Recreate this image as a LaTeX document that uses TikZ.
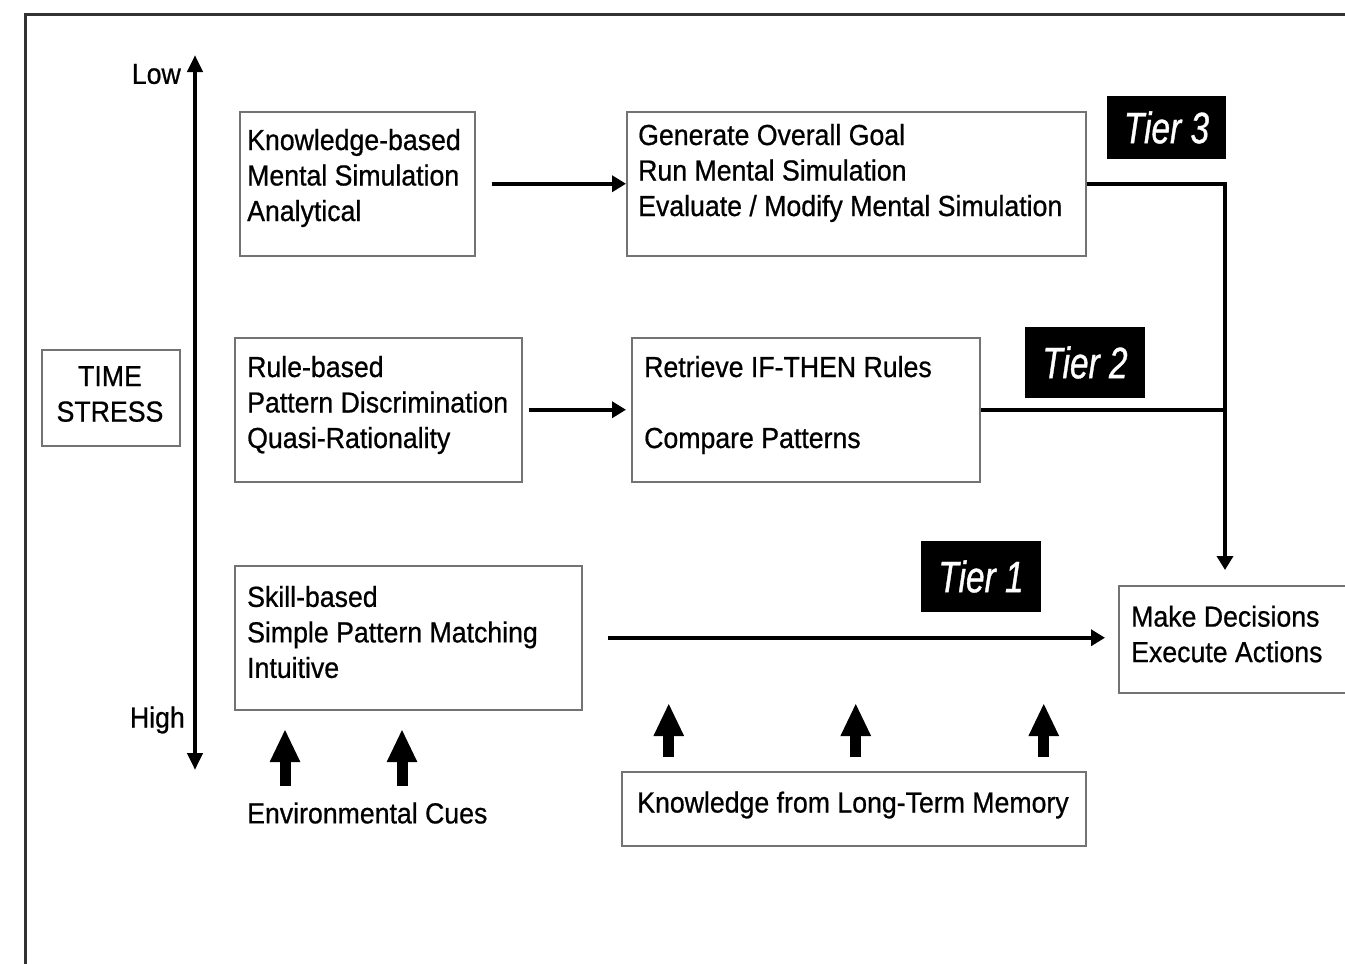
\documentclass[tikz,border=0pt]{standalone}
\usepackage{fontspec}
\setmainfont{Liberation Sans}[FakeStretch=0.92, UprightFeatures={FakeBold=0.7}]
\newfontfamily\tierfont{Liberation Sans}[FakeStretch=0.76, ItalicFeatures={FakeBold=0.8}]
\usetikzlibrary{arrows.meta}

\begin{document}
\begin{tikzpicture}[x=1pt,y=-1pt,
  every node/.style={font=\fontsize{29}{35.5}\selectfont, text=black},
  box/.style={draw=black!55, line width=1.5pt, fill=white, inner sep=0pt, anchor=north west},
  txt/.style={align=left, anchor=west, inner sep=0pt},
  tier/.style={fill=black, text=white, inner sep=0pt,
    font=\tierfont\itshape\fontsize{44}{44}\selectfont},
  conn/.style={line width=3.5pt, -{Triangle[length=14pt,width=16pt]}},
  link/.style={line width=3.5pt},
  cue/.style={line width=11pt, -{Triangle[length=33pt,width=28pt]}},
  axis/.style={line width=4.5pt,
    {Triangle[length=17pt,width=15pt]}-{Triangle[length=17pt,width=15pt]}},
]
\useasboundingbox (0,0) rectangle (1345,964);
\clip (0,0) rectangle (1345,964);

% outer frame
\draw[line width=3pt, draw=black!80] (1400,14) -- (25,14) -- (25,1000);

% time-stress axis
\coordinate (lowend) at (195,55);
\coordinate (highend) at (195,770);
\draw[axis] (highend) -- (lowend);
\node[anchor=east, inner sep=0pt] (low) at (181,74) {Low};
\node[anchor=east, inner sep=0pt] (high) at (185,720) {High};

\node[box, minimum width=138pt, minimum height=96pt] (ts) at (41,349) {};
\node[align=center, inner sep=0pt] (tst) at (110,394) {TIME\\STRESS};

% tier 3
\node[box, minimum width=235pt, minimum height=144pt] (kb) at (239,111) {};
\node[txt] (kbt) at (247,178) {Knowledge-based\\Mental Simulation\\Analytical};
\node[box, minimum width=459pt, minimum height=144pt] (goal) at (626,111) {};
\node[txt] (goalt) at (638,173) {Generate Overall Goal\\Run Mental Simulation\\Evaluate / Modify Mental Simulation};
\node[tier, minimum width=119pt, minimum height=63pt] (t3) at (1166.5,127.5) {Tier 3};

% tier 2
\node[box, minimum width=287pt, minimum height=144pt] (rule) at (234,337) {};
\node[txt] (rulet) at (247,405) {Rule-based\\Pattern Discrimination\\Quasi-Rationality};
\node[box, minimum width=348pt, minimum height=144pt] (retr) at (631,337) {};
\node[txt] (retrt) at (644,405) {Retrieve IF-THEN Rules\\[35.5pt]Compare Patterns};
\node[tier, minimum width=120pt, minimum height=71pt] (t2) at (1085,362.5) {Tier 2};

% tier 1
\node[box, minimum width=347pt, minimum height=144pt] (skill) at (234,565) {};
\node[txt] (skillt) at (247,632) {Skill-based\\Simple Pattern Matching\\Intuitive};
\node[tier, minimum width=120pt, minimum height=71pt] (t1) at (981,576.5) {Tier 1};

% outcome
\node[box, minimum width=260pt, minimum height=107pt] (dec) at (1118,585) {};
\node[txt] (dect) at (1131,634) {Make Decisions\\Execute Actions};

% long-term memory
\node[box, minimum width=464pt, minimum height=74pt] (ltm) at (621,771) {};
\node[inner sep=0pt] (ltmt) at (853,805) {Knowledge from Long-Term Memory};

% environmental cues
\node[txt] (env) at (247,813) {Environmental Cues};

% connectors
\coordinate (bus) at (1225,183);
\draw[conn, shorten <=16pt] (kb.east) -- (goal.west);
\draw[conn, shorten <=6pt, shorten >=5pt] (rule.east) -- (retr.west);
\draw[conn, shorten >=15pt] (goal.east) -| (bus |- dec.north);
\draw[link] (retr.east) -- (retr.east -| bus);
\draw[conn, shorten <=25pt, shorten >=13pt] (skill.east) -- (skill.east -| dec.west);

% cue arrows
\coordinate (c1a) at (285,786);
\coordinate (c1b) at (285,729);
\coordinate (c2a) at (402,786);
\coordinate (c2b) at (402,729);
\draw[cue] (c1a) -- (c1b);
\draw[cue] (c2a) -- (c2b);
\draw[cue, shorten <=14pt] ([xshift=-185pt]ltm.north) -- ++(0,-68);
\draw[cue, shorten <=14pt] ([xshift=2pt]ltm.north) -- ++(0,-68);
\draw[cue, shorten <=14pt] ([xshift=190pt]ltm.north) -- ++(0,-68);
\end{tikzpicture}
\end{document}
